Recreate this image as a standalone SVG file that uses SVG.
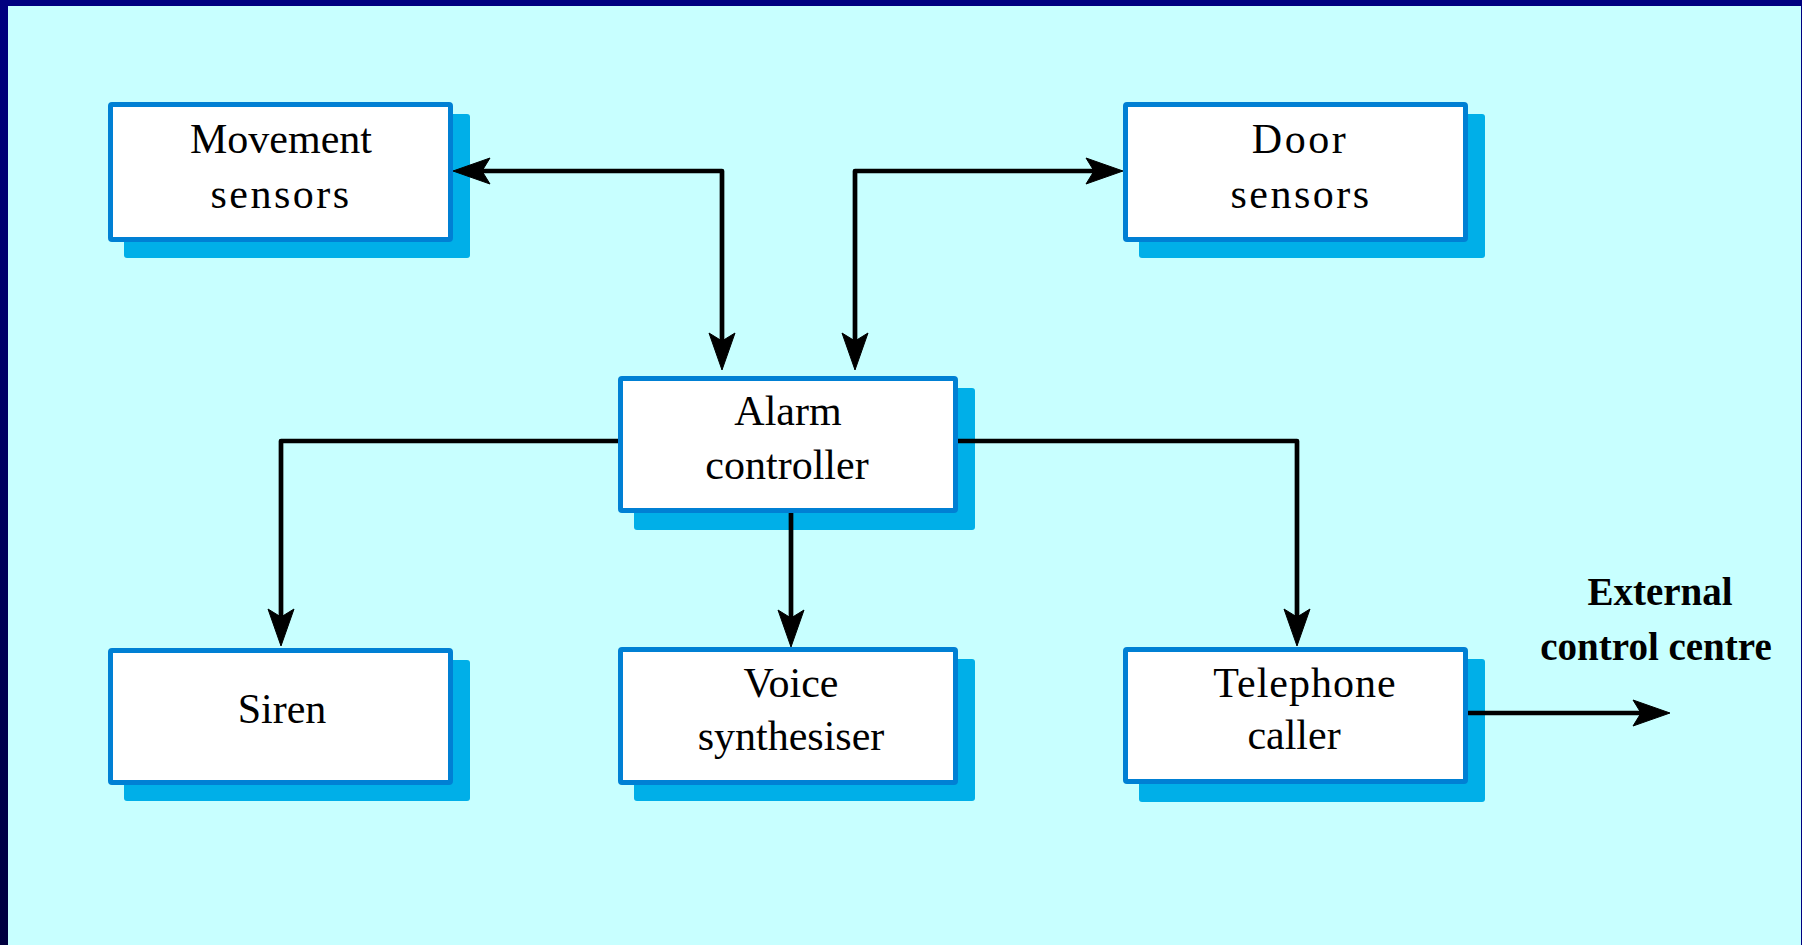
<svg xmlns="http://www.w3.org/2000/svg" width="1802" height="945" viewBox="0 0 1802 945">
  <defs>
    <linearGradient id="frameLeft" x1="0" y1="0" x2="0" y2="1">
      <stop offset="0" stop-color="#000080"/>
      <stop offset="1" stop-color="#000040"/>
    </linearGradient>
    <!-- barbed arrowhead; reference point sits in the notch so the line ends inside the head -->
    <marker id="head" viewBox="0 -13 37 26" markerUnits="userSpaceOnUse" markerWidth="37" markerHeight="26" refX="8" refY="0" orient="auto-start-reverse" overflow="visible">
      <path d="M 0 -13 L 37 0 L 0 13 L 8 0 Z" fill="#000" stroke="#000" stroke-width="1" stroke-linejoin="round"/>
    </marker>
    <style>
      .shadow { fill: #00afe8; }
      .box { fill: #ffffff; stroke: #0080d4; stroke-width: 5; stroke-linejoin: round; }
      .label { font-family: "Liberation Serif", "Times New Roman", serif; font-size: 42px; fill: #000; text-anchor: middle; }
      .spaced { letter-spacing: 2.5px; }
      .ext { font-family: "Liberation Serif", "Times New Roman", serif; font-size: 39px; font-weight: bold; fill: #000; text-anchor: middle; }
      .link { fill: none; stroke: #000; stroke-width: 4.7; stroke-linejoin: round; }
    </style>
  </defs>

  <!-- page background and frame -->
  <rect x="0" y="0" width="1802" height="945" fill="#c8ffff"/>
  <rect x="0" y="0" width="1802" height="6" fill="#000080"/>
  <rect x="0" y="0" width="8" height="945" fill="url(#frameLeft)"/>
  <rect x="1801" y="0" width="1" height="945" fill="#000080"/>

  <g id="movement-sensors">
    <rect class="shadow" x="124" y="114" width="346" height="144" rx="3"/>
    <rect class="box" x="110.5" y="104.5" width="340" height="135" rx="1.5"/>
    <text class="label" x="281" y="153">Movement</text>
    <text class="label spaced" x="281" y="208">sensors</text>
  </g>

  <g id="door-sensors">
    <rect class="shadow" x="1139" y="114" width="346" height="144" rx="3"/>
    <rect class="box" x="1125.5" y="104.5" width="340" height="135" rx="1.5"/>
    <text class="label spaced" x="1300" y="153">Door</text>
    <text class="label spaced" x="1301" y="208">sensors</text>
  </g>

  <g id="alarm-controller">
    <rect class="shadow" x="634" y="388" width="341" height="142" rx="3"/>
    <rect class="box" x="620.5" y="378.5" width="335" height="132" rx="1.5"/>
    <text class="label" x="788" y="425">Alarm</text>
    <text class="label" x="787" y="479">controller</text>
  </g>

  <g id="siren">
    <rect class="shadow" x="124" y="660" width="346" height="141" rx="3"/>
    <rect class="box" x="110.5" y="650.5" width="340" height="132" rx="1.5"/>
    <text class="label" x="282" y="723">Siren</text>
  </g>

  <g id="voice-synthesiser">
    <rect class="shadow" x="634" y="659" width="341" height="142" rx="3"/>
    <rect class="box" x="620.5" y="649.5" width="335" height="133" rx="1.5"/>
    <text class="label" x="791" y="697">Voice</text>
    <text class="label" x="791" y="750">synthesiser</text>
  </g>

  <g id="telephone-caller">
    <rect class="shadow" x="1139" y="659" width="346" height="143" rx="3"/>
    <rect class="box" x="1125.5" y="649.5" width="340" height="132" rx="1.5"/>
    <text class="label" x="1305" y="697" letter-spacing="1">Telephone</text>
    <text class="label" x="1294" y="749">caller</text>
  </g>

  <g id="external-control-centre">
    <text class="ext" x="1660" y="605">External</text>
    <text class="ext" x="1656" y="660">control centre</text>
  </g>

  <!-- connectors, drawn over the box shadows -->
  <g id="connectors">
    <path class="link" d="M 482 171 H 722 V 341" marker-start="url(#head)" marker-end="url(#head)"/>
    <path class="link" d="M 855 341 V 171 H 1094" marker-start="url(#head)" marker-end="url(#head)"/>
    <path class="link" d="M 618 441 H 281 V 617" marker-end="url(#head)"/>
    <path class="link" d="M 791 513 V 618" marker-end="url(#head)"/>
    <path class="link" d="M 958 441 H 1297 V 617" marker-end="url(#head)"/>
    <path class="link" d="M 1468 713 H 1641" marker-end="url(#head)"/>
  </g>
</svg>
